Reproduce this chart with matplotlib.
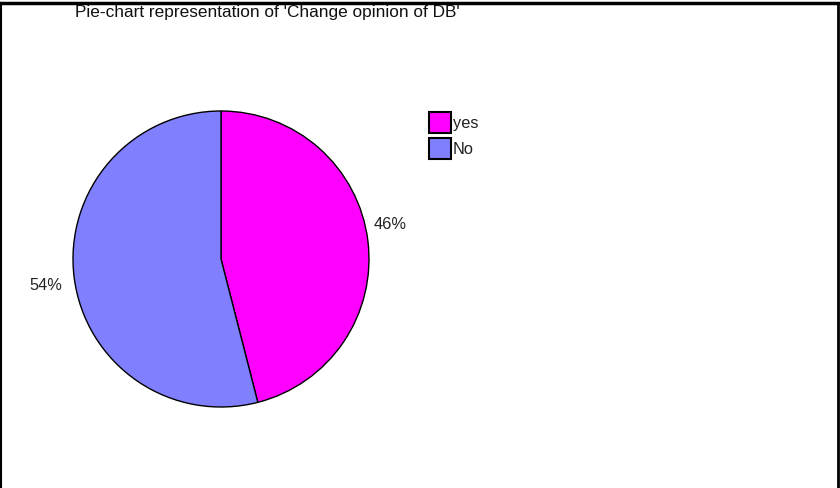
import matplotlib
matplotlib.use("Agg")
import matplotlib.pyplot as plt
from matplotlib.lines import Line2D

plt.rcParams['font.family'] = ['Liberation Sans', 'DejaVu Sans']

title = "Pie-chart representation of 'Change opinion of DB'"
categories = ["yes", "No"]
values = [46, 54]
colors = ["#FF00FF", "#8080FF"]

# layout: label positions in units of the pie radius
label_pos = [(1.145, 0.233), (-1.186, -0.179)]

W, H = 840, 488
fig = plt.figure(figsize=(W / 100, H / 100), dpi=100)

cx, cy, r = 221, 259, 148
ax = fig.add_axes([(cx - r) / W, (H - cy - r) / H, 2 * r / W, 2 * r / H])
wedges, texts, autotexts = ax.pie(
    values, colors=colors, startangle=90, counterclock=False,
    autopct='%1.0f%%', pctdistance=1.18, radius=1,
    wedgeprops=dict(edgecolor='black', linewidth=1.0),
    textprops=dict(fontsize=11.8, color='#222222'))
for t, p in zip(autotexts, label_pos):
    t.set_position(p)
    t.set_ha('center')
    t.set_va('center')
ax.set_xlim(-1, 1)
ax.set_ylim(-1, 1)
ax.set_aspect('equal')
ax.axis('off')

fig.text(75 / W, 1 - 13 / H, title, fontsize=12.4, ha='left', va='center', color='#111111')

leg = fig.legend(wedges, categories, loc='upper left',
                 bbox_to_anchor=(429 / W, 1 - 112 / H), frameon=False,
                 fontsize=11.8, handlelength=1.32, handleheight=1.62,
                 handletextpad=0.15, labelspacing=0.26, borderaxespad=0,
                 borderpad=0)
for h in leg.legend_handles:
    h.set_edgecolor('black')
    h.set_linewidth(1.5)
for t in leg.get_texts():
    t.set_color('#222222')

fig.add_artist(Line2D([0, 1], [1 - 3 / H, 1 - 3 / H], transform=fig.transFigure, color='black', lw=2.5))
fig.add_artist(Line2D([0.5 / W, 0.5 / W], [0, 1 - 3 / H], transform=fig.transFigure, color='black', lw=1.5))
fig.add_artist(Line2D([1 - 2 / W, 1 - 2 / W], [0, 1 - 3 / H], transform=fig.transFigure, color='black', lw=2.0))

fig.savefig("out.png", dpi=100)
